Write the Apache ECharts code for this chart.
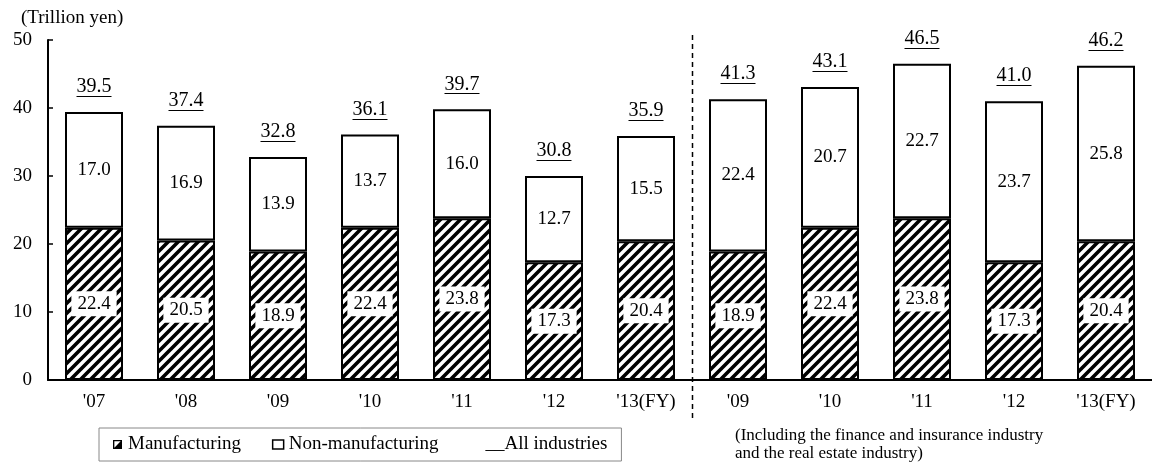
<!DOCTYPE html>
<html>
<head>
<meta charset="utf-8">
<script src="https://cdn.jsdelivr.net/npm/echarts@6/dist/echarts.min.js"></script>
<style>
  html, body { margin: 0; padding: 0; background: #fff; }
  #chart { width: 1152px; height: 464px; }
</style>
</head>
<body>
<div id="chart"></div>
<script>
// Fiscal years: seven years for all industries, then five years including finance/insurance and real estate
const categories = ["'07", "'08", "'09", "'10", "'11", "'12", "'13(FY)", "'09", "'10", "'11", "'12", "'13(FY)"];
const manufacturing = [22.4, 20.5, 18.9, 22.4, 23.8, 17.3, 20.4, 18.9, 22.4, 23.8, 17.3, 20.4];
const nonManufacturing = [17.0, 16.9, 13.9, 13.7, 16.0, 12.7, 15.5, 22.4, 20.7, 22.7, 23.7, 25.8];
const allIndustries = [39.5, 37.4, 32.8, 36.1, 39.7, 30.8, 35.9, 41.3, 43.1, 46.5, 41.0, 46.2];
const yMin = 0, yMax = 50, yStep = 10;
const splitAfterIndex = 6; // last year of the first group

const FONT = '"Liberation Serif", "Times New Roman", serif';

// Diagonal hatching used for the manufacturing segments
function makeHatch() {
  const c = document.createElement('canvas');
  const s = 10;
  c.width = s; c.height = s;
  const ctx = c.getContext('2d');
  ctx.fillStyle = '#fff';
  ctx.fillRect(0, 0, s, s);
  ctx.strokeStyle = '#000';
  ctx.lineWidth = 3.6;
  ctx.lineCap = 'square';
  [[0, s, s, 0], [-s / 2, s / 2, s / 2, -s / 2], [s / 2, s * 1.5, s * 1.5, s / 2]].forEach(function (p) {
    ctx.beginPath();
    ctx.moveTo(p[0], p[1]);
    ctx.lineTo(p[2], p[3]);
    ctx.stroke();
  });
  return c;
}

const TOTAL_FONT = '20px ' + FONT;
const measureCtx = document.createElement('canvas').getContext('2d');
measureCtx.font = TOTAL_FONT;

const totalData = categories.map(function (c, i) {
  return [i, manufacturing[i] + nonManufacturing[i], allIndustries[i]];
});

const chart = echarts.init(document.getElementById('chart'), null, { renderer: 'canvas' });

const option = {
  animation: false,
  backgroundColor: '#fff',
  title: {
    text: '(Trillion yen)',
    left: 16,
    top: 4,
    textStyle: { fontFamily: FONT, fontSize: 19, fontWeight: 'normal', color: '#000' }
  },
  grid: { left: 48, right: 0, top: 40, bottom: 84, containLabel: false },
  xAxis: {
    type: 'category',
    data: categories,
    axisLine: { lineStyle: { color: '#000', width: 2 } },
    axisTick: { inside: true, length: 5, lineStyle: { color: '#000', width: 1.5 } },
    axisLabel: { fontFamily: FONT, fontSize: 19, color: '#000', margin: 13, interval: 0 }
  },
  yAxis: {
    type: 'value',
    min: yMin, max: yMax, interval: yStep,
    splitLine: { show: false },
    axisLine: { show: true, lineStyle: { color: '#000', width: 2 } },
    axisTick: { show: true, inside: true, length: 5, lineStyle: { color: '#000', width: 1.5 } },
    axisLabel: { fontFamily: FONT, fontSize: 19, color: '#000', margin: 16 }
  },
  legend: {
    left: 99,
    top: 428,
    padding: [7, 14],
    borderColor: '#888',
    borderWidth: 1,
    itemGap: 31,
    itemWidth: 11,
    itemHeight: 9,
    textStyle: { fontFamily: FONT, fontSize: 19, color: '#000' },
    formatter: function (name) { return name === 'All industries' ? '__' + name : name; },
    data: [
      {
        name: 'Manufacturing',
        icon: 'path://M0,0H10V10H0Z M1.5,1.5V8.5H8.5V1.5Z M8.5,1.5L8.5,8.5L1.5,8.5Z',
        itemStyle: { color: '#000', borderWidth: 0 }
      },
      {
        name: 'Non-manufacturing',
        icon: 'rect',
        itemStyle: { color: '#fff', borderColor: '#000', borderWidth: 1.5 }
      },
      {
        name: 'All industries',
        icon: 'rect',
        itemStyle: { color: 'rgba(0,0,0,0)', borderWidth: 0 }
      }
    ]
  },
  graphic: [
    {
      type: 'text',
      left: 735,
      top: 427,
      style: {
        text: '(Including the finance and insurance industry\nand the real estate industry)',
        font: '17px ' + FONT,
        lineHeight: 18,
        fill: '#000'
      }
    }
  ],
  series: [
    {
      name: 'Manufacturing',
      type: 'bar',
      stack: 'total',
      barWidth: 58,
      data: manufacturing,
      itemStyle: {
        color: { image: makeHatch(), repeat: 'repeat' },
        borderColor: '#000',
        borderWidth: 2
      },
      label: {
        show: true,
        position: 'inside',
        formatter: function (p) { return p.value.toFixed(1); },
        fontFamily: FONT,
        fontSize: 19,
        color: '#000',
        backgroundColor: '#fff',
        padding: [4, 6, 2, 6]
      }
    },
    {
      name: 'Non-manufacturing',
      type: 'bar',
      stack: 'total',
      barWidth: 58,
      data: nonManufacturing,
      itemStyle: { color: '#fff', borderColor: '#000', borderWidth: 2 },
      label: {
        show: true,
        position: 'inside',
        formatter: function (p) { return p.value.toFixed(1); },
        fontFamily: FONT,
        fontSize: 19,
        color: '#000'
      }
    },
    {
      name: 'All industries',
      type: 'custom',
      z: 5,
      data: totalData,
      encode: { x: 0, y: 1 },
      renderItem: function (params, api) {
        const idx = api.value(0);
        const top = api.coord([idx, api.value(1)]);
        const txt = api.value(2).toFixed(1);
        const w = measureCtx.measureText(txt).width;
        const lineY = Math.round(top[1] - 16) + 0.5;
        return {
          type: 'group',
          children: [
            {
              type: 'text',
              style: {
                text: txt,
                x: top[0],
                y: top[1] - 25,
                align: 'center',
                verticalAlign: 'middle',
                font: TOTAL_FONT,
                fill: '#000'
              }
            },
            {
              type: 'line',
              shape: { x1: top[0] - w / 2, y1: lineY, x2: top[0] + w / 2, y2: lineY },
              style: { stroke: '#000', lineWidth: 1 }
            }
          ]
        };
      }
    }
  ]
};

chart.setOption(option);

// Dashed divider between the two groups, placed on the band boundary
const xa = chart.convertToPixel({ xAxisIndex: 0 }, splitAfterIndex);
const xb = chart.convertToPixel({ xAxisIndex: 0 }, splitAfterIndex + 1);
const xDiv = Math.round((xa + xb) / 2) + 0.5;
const yTop = chart.convertToPixel({ yAxisIndex: 0 }, yMax) - 5;
const yBase = chart.convertToPixel({ yAxisIndex: 0 }, yMin) + 40;
chart.setOption({
  graphic: [
    option.graphic[0],
    {
      type: 'line',
      shape: { x1: xDiv, y1: yTop, x2: xDiv, y2: yBase },
      style: { stroke: '#000', lineWidth: 1.5, lineDash: [5, 4] },
      z: 10
    }
  ]
});
</script>
</body>
</html>
